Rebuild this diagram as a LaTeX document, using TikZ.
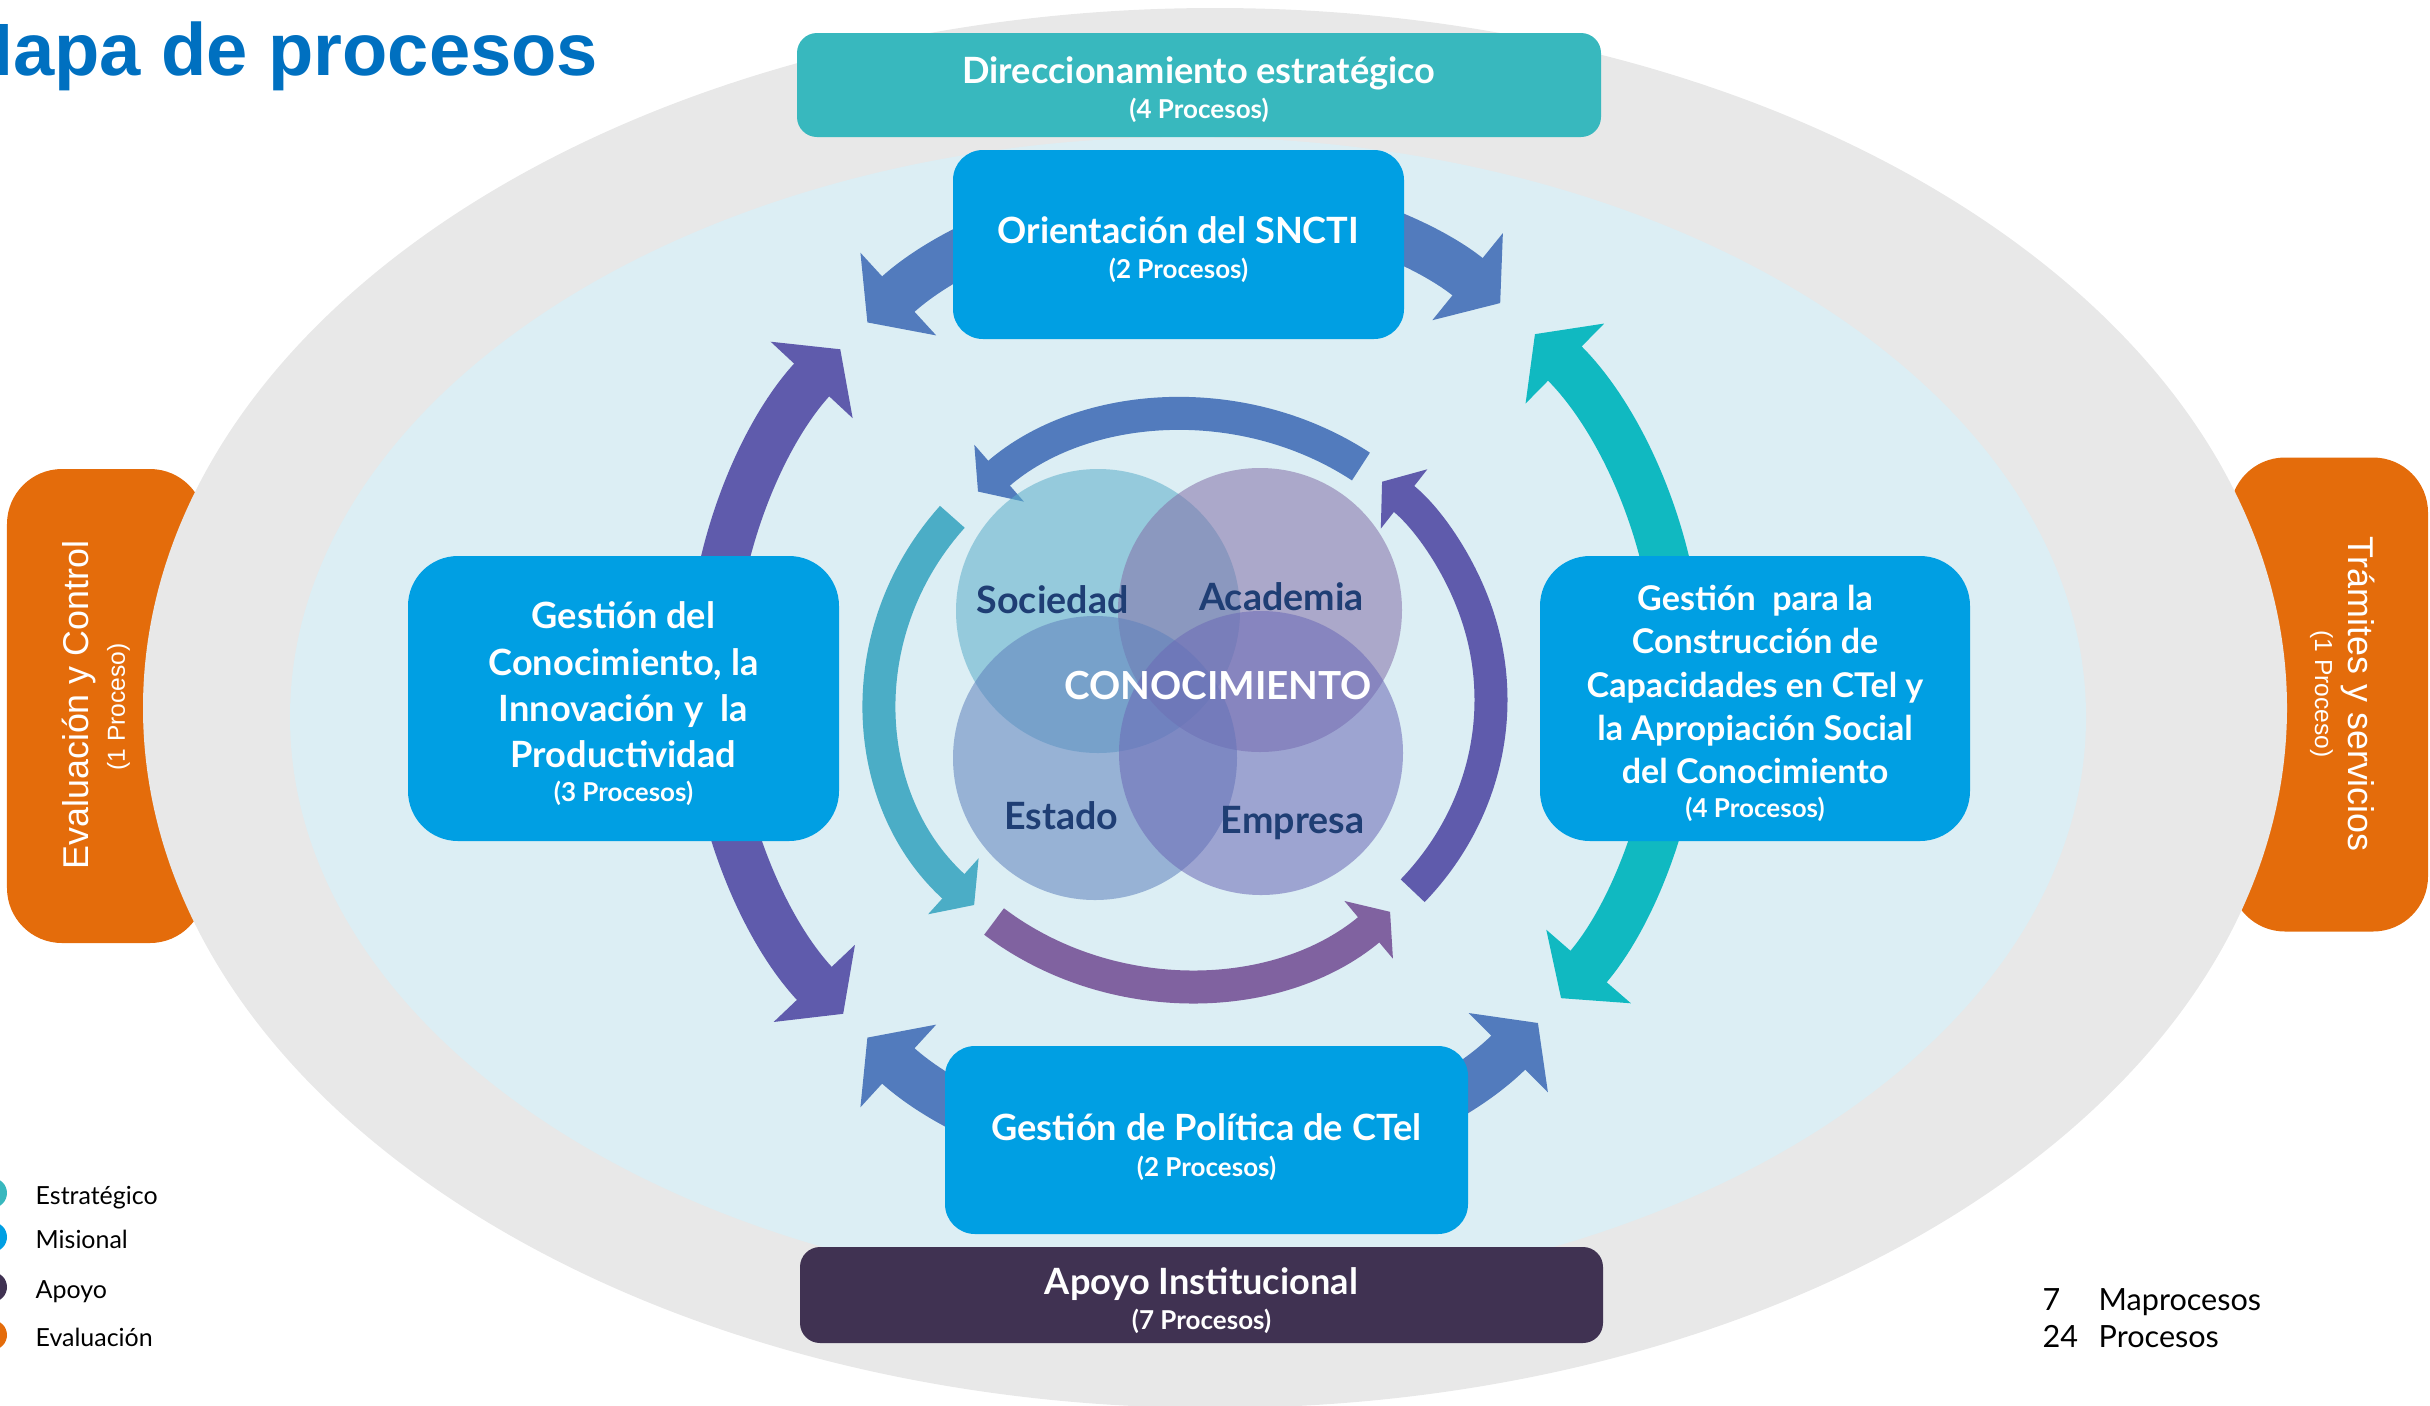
\documentclass[tikz,border=0pt]{standalone}
\usepackage{fontspec}
\setmainfont{Lato}
\newfontfamily\arialfont{Liberation Sans}
\usetikzlibrary{arrows.meta}

\definecolor{titulo}{HTML}{0070C0}
\definecolor{estrat}{HTML}{38B8BE}
\definecolor{misional}{HTML}{009FE3}
\definecolor{apoyo}{HTML}{403252}
\definecolor{evalua}{HTML}{E46C0B}
\definecolor{fondo}{HTML}{E8E8E8}
\definecolor{cielo}{HTML}{DCEEF4}
\definecolor{acero}{HTML}{527BBD}
\definecolor{violeta}{HTML}{5F5BAC}
\definecolor{turquesa}{HTML}{10B9C1}
\definecolor{aguamar}{HTML}{4BADC6}
\definecolor{malva}{HTML}{8062A0}
\definecolor{marino}{HTML}{1F3E74}
\definecolor{vsoc}{HTML}{5BAECA}
\definecolor{vaca}{HTML}{836FA8}
\definecolor{vest}{HTML}{5F81BD}
\definecolor{vemp}{HTML}{6B69B6}

\newcommand{\cuenta}[1]{{\fontsize{7.4}{9}\selectfont #1}}

\begin{document}
\begin{tikzpicture}[
    proc/.style={fill=misional, inner sep=0pt},
    proctxt/.style={text=white, align=center, inner sep=0pt,
                    font=\bfseries\fontsize{10.3}{13.2}\selectfont},
    pesta/.style={fill=evalua, rounded corners=0.55cm, minimum width=1.98cm,
                  minimum height=4.74cm, inner sep=0pt},
    anillo/.style={line width=0.48cm, -{Triangle[width=1.1cm, length=0.42cm]}},
    ciclo/.style={line width=0.33cm, -{Triangle[width=0.74cm, length=0.28cm]}},
    venn/.style={circle, minimum size=2.84cm, inner sep=0pt, fill opacity=0.55},
    etiq/.style={anchor=base, text=marino, font=\bfseries\fontsize{10.7}{13}\selectfont},
    lado/.style={anchor=base, text=white, font=\arialfont\fontsize{10.2}{12}\selectfont},
    ladosub/.style={anchor=base, text=white, font=\arialfont\fontsize{7}{8}\selectfont},
    total/.style={anchor=base west, inner sep=0pt, font=\fontsize{8.7}{10}\selectfont}
]
    \useasboundingbox (0,0) rectangle (24.3,-14.05);

    % evaluation tabs, half hidden by the grey ellipse
    \node[pesta] (evalbox) at (1.06,-7.06) {};
    \node[pesta] (tramibox) at (23.29,-6.945) {};

    \fill[fondo] (12.15,-7.08) ellipse [x radius=10.72, y radius=7.0];
    \fill[cielo] (11.88,-7.17) ellipse [x radius=8.98, y radius=5.8];

    % outer ring of arrows
    \coordinate (ring) at (11.95,-6.80);
    \foreach \ini/\fin/\col in {95/132.5/acero, 85/51/acero, 175/137/violeta,
                                185/223.5/violeta, 265/227.5/acero, 275/315/acero,
                                5/45.5/turquesa, -5/-41/turquesa} {
        \draw[anillo, \col] (ring) ++(\ini:4.85) arc[start angle=\ini, end angle=\fin, radius=4.85];
    }

    % inner cycle
    \coordinate (nucleo) at (11.86,-7.00);
    \foreach \ini/\fin/\col in {55/133/acero, 140/226/aguamar, 231/312/malva, 318/410/violeta} {
        \draw[ciclo, \col] (nucleo) ++(\ini:3.05 and 2.85)
            arc[start angle=\ini, end angle=\fin, x radius=3.05, y radius=2.85];
    }

    \foreach \nom/\x/\y/\col in {soc/10.98/-6.11/vsoc, aca/12.60/-6.10/vaca,
                                 est/10.95/-7.58/vest, emp/12.61/-7.53/vemp} {
        \node[venn, fill=\col] (\nom) at (\x,\y) {};
    }
    \node[etiq] (socl) at (10.525,-6.13) {Sociedad};
    \node[etiq] (acal) at (12.815,-6.10) {Academia};
    \node[etiq] (estl) at (10.615,-8.29) {Estado};
    \node[etiq] (empl) at (12.925,-8.33) {Empresa};
    \node[etiq, text=white, font=\bfseries\fontsize{11}{13}\selectfont] (conoc) at (12.18,-6.99) {CONOCIMIENTO};

    % process boxes
    \node[proc, fill=estrat, minimum width=8.04cm, minimum height=1.04cm, rounded corners=0.2cm]
        (direc) at (11.99,-0.85) {};
    \node[proctxt] (directxt) at ([yshift=-0.05cm]direc.center)
        {Direccionamiento estratégico\\[-3.2pt]\cuenta{(4 Procesos)}};

    \node[proc, minimum width=4.51cm, minimum height=1.89cm, rounded corners=0.3cm]
        (orient) at (11.785,-2.445) {};
    \node[proctxt] (orienttxt) at ([yshift=-0.05cm]orient.center)
        {Orientación del SNCTI\\[-3.2pt]\cuenta{(2 Procesos)}};

    \node[proc, minimum width=4.31cm, minimum height=2.85cm, rounded corners=0.5cm]
        (gcono) at (6.235,-6.985) {};
    \node[proctxt] (gconotxt) at ([yshift=-0.05cm]gcono.center)
        {Gestión del\\Conocimiento, la\\Innovación y\ \ la\\Productividad\\[-3.8pt]\cuenta{(3 Procesos)}};

    \node[proc, minimum width=4.30cm, minimum height=2.85cm, rounded corners=0.5cm]
        (gcapa) at (17.55,-6.985) {};
    \node[proctxt, font=\bfseries\fontsize{9.7}{12.3}\selectfont] (gcapatxt) at ([yshift=-0.05cm]gcapa.center)
        {Gestión\ \ para la\\Construcción de\\Capacidades en CTel y\\la Apropiación Social\\del Conocimiento\\[-2.6pt]\cuenta{(4 Procesos)}};

    \node[proc, minimum width=5.23cm, minimum height=1.88cm, rounded corners=0.3cm]
        (gpoli) at (12.065,-11.40) {};
    \node[proctxt] (gpolitxt) at ([yshift=-0.07cm]gpoli.center)
        {Gestión de Política de CTel\\[-3pt]\cuenta{(2 Procesos)}};

    \node[proc, fill=apoyo, minimum width=8.03cm, minimum height=0.96cm, rounded corners=0.2cm]
        (apoyo) at (12.015,-12.95) {};
    \node[proctxt] (apoyotxt) at ([yshift=-0.06cm]apoyo.center)
        {Apoyo Institucional\\[-3.2pt]\cuenta{(7 Procesos)}};

    \node[lado, rotate=90] (evaltxt) at (0.88,-7.05) {Evaluación y Control};
    \node[ladosub, rotate=90] (evalsub) at (1.25,-7.07) {(1 Proceso)};
    \node[lado, rotate=-90] (tramitxt) at (23.48,-6.94) {Trámites y servicios};
    \node[ladosub, rotate=-90] (tramisub) at (23.15,-6.94) {(1 Proceso)};

    \node[anchor=base east, inner sep=0pt, text=titulo, font=\arialfont\bfseries\fontsize{21.1}{24}\selectfont]
        (titulo) at (5.99,-0.75) {Mapa de procesos};

    % legend
    \foreach \y/\col/\txt [count=\i] in {11.93/estrat/Estratégico, 12.37/misional/Misional,
                                         12.87/apoyo/Apoyo, 13.35/evalua/Evaluación} {
        \node[circle, fill=\col, minimum size=0.3cm, inner sep=0pt] (ley\i) at (-0.08,-\y) {};
        \node[anchor=base west, inner sep=0pt, font=\fontsize{7.1}{8}\selectfont] (leytxt\i) at (0.35,{-\y-0.11}) {\txt};
    }

    \node[total] (n7) at (20.42,-13.10) {7};
    \node[total] (lmacro) at (20.98,-13.10) {Maprocesos};
    \node[total] (n24) at (20.42,-13.47) {24};
    \node[total] (lproc) at (20.98,-13.47) {Procesos};
\end{tikzpicture}
\end{document}
